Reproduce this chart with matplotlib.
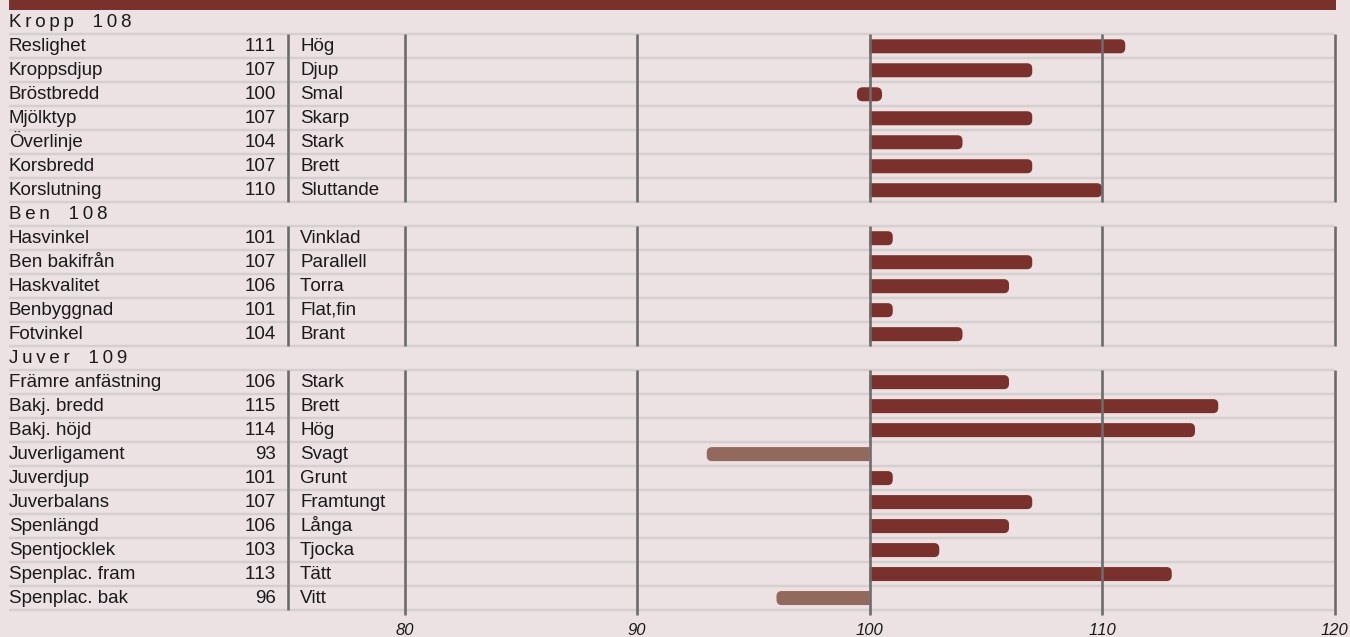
import numpy as np
import matplotlib
matplotlib.use("Agg")
import matplotlib.pyplot as plt
from matplotlib.patches import FancyBboxPatch, Rectangle, PathPatch
from matplotlib.path import Path

# Data
groups = ["Kropp", "Ben", "Juver"]
group_index = [108, 108, 109]

kropp_traits = ["Reslighet", "Kroppsdjup", "Bröstbredd", "Mjölktyp", "Överlinje", "Korsbredd", "Korslutning"]
kropp_values = [111, 107, 100, 107, 104, 107, 110]
kropp_desc = ["Hög", "Djup", "Smal", "Skarp", "Stark", "Brett", "Sluttande"]

ben_traits = ["Hasvinkel", "Ben bakifrån", "Haskvalitet", "Benbyggnad", "Fotvinkel"]
ben_values = [101, 107, 106, 101, 104]
ben_desc = ["Vinklad", "Parallell", "Torra", "Flat,fin", "Brant"]

juver_traits = ["Främre anfästning", "Bakj. bredd", "Bakj. höjd", "Juverligament", "Juverdjup",
                "Juverbalans", "Spenlängd", "Spentjocklek", "Spenplac. fram", "Spenplac. bak"]
juver_values = [106, 115, 114, 93, 101, 107, 106, 103, 113, 96]
juver_desc = ["Stark", "Brett", "Hög", "Svagt", "Grunt", "Framtungt", "Långa", "Tjocka", "Tätt", "Vitt"]

xticks = [80, 90, 100, 110, 120]

# Colours
BG = "#ece1e3"
BAR = "#7a312b"
BAR_LOW = "#93685d"
GRID = "#6c6c6c"
SEP = "#d4d0d0"
TXT = "#1a1a1a"

DPI = 100
W, H = 1350, 637
PX = 23.25            # pixels per index unit
X100 = 869.5          # pixel position of 100
ROW = 23.99           # pixels per row
Y0 = 10.3             # pixel top of first row

x_min = 100 - X100 / PX
x_max = 100 + (W - X100) / PX
y_top = -Y0 / ROW
y_bot = (H - Y0) / ROW


def px(p):
    return x_min + p / PX


plt.rcParams["font.family"] = ["Liberation Sans", "DejaVu Sans"]
plt.rcParams["text.kerning_factor"] = 16   # no kerning, like the original
FS = 13.5
BASE = 4.8 / ROW   # baseline offset below row centre

fig = plt.figure(figsize=(W / DPI, H / DPI), dpi=DPI, facecolor=BG)
ax = fig.add_axes([0, 0, 1, 1])
ax.set_facecolor(BG)
ax.set_xlim(x_min, x_max)
ax.set_ylim(y_bot, y_top)
ax.axis("off")

# top band
ax.add_patch(Rectangle((px(9), y_top), px(1336) - px(9), 10 / ROW,
                       color=BAR, lw=0, zorder=5))


def half_round_bar(x0, x1, yc, h, rad, color):
    # flat at x0, rounded corners at x1
    s = 1 if x1 > x0 else -1
    yb, yt = yc - h / 2, yc + h / 2
    verts = [(x0, yb), (x1 - s * rad, yb), (x1, yb), (x1, yb + rad),
             (x1, yt - rad), (x1, yt), (x1 - s * rad, yt), (x0, yt), (x0, yb)]
    codes = [Path.MOVETO, Path.LINETO, Path.CURVE3, Path.CURVE3,
             Path.LINETO, Path.CURVE3, Path.CURVE3, Path.LINETO, Path.CLOSEPOLY]
    ax.add_patch(PathPatch(Path(verts, codes), fc=color, ec="none", zorder=3))


all_traits = [kropp_traits, ben_traits, juver_traits]
all_values = [kropp_values, ben_values, juver_values]
all_desc = [kropp_desc, ben_desc, juver_desc]

thin = "\u2009"
bar_h = 14 / ROW
r = 0
blocks = []
for g, gi, traits, vals, descs in zip(groups, group_index, all_traits, all_values, all_desc):
    head = thin.join(g) + thin * 5 + thin.join(str(gi))
    ax.text(px(9), r + 0.5 + BASE, head, fontsize=FS, color=TXT, va="baseline", ha="left")
    r += 1
    start = r
    for t, v, d in zip(traits, vals, descs):
        yc = r + 0.5
        ty = yc + BASE
        ax.text(px(9), ty, t, fontsize=FS, color=TXT, va="baseline", ha="left")
        ax.text(px(276), ty, str(v), fontsize=FS, color=TXT, va="baseline", ha="right")
        ax.text(px(300), ty, d, fontsize=FS, color=TXT, va="baseline", ha="left")
        # bar
        if v == 100:
            ax.add_patch(FancyBboxPatch((99.46, yc - bar_h / 2), 1.08, bar_h,
                                        boxstyle="round,pad=0,rounding_size=0.25",
                                        fc=BAR, ec="none", zorder=3))
        else:
            col = BAR if v > 100 else BAR_LOW
            half_round_bar(100, v, yc, bar_h, 0.22, col)
        r += 1
    blocks.append((start, r))

# row separators
for start, end in blocks:
    for k in range(start, end + 1):
        ax.plot([px(9), px(1334)], [k, k], color=SEP, lw=1.7, zorder=1,
                solid_capstyle="butt")

# vertical lines
for i, (start, end) in enumerate(blocks):
    ext = 0.22 if i == len(blocks) - 1 else 0
    ax.plot([75, 75], [start, end], color=GRID, lw=1.9, zorder=4, solid_capstyle="butt")
    for xt in xticks:
        ax.plot([xt, xt], [start, end + ext], color=GRID, lw=1.9, zorder=4,
                solid_capstyle="butt")

# tick labels
for xt in xticks:
    ax.text(xt, 25.85, str(xt), fontsize=12, style="italic", color=TXT,
            ha="center", va="center")

fig.savefig("out.png", dpi=DPI, facecolor=BG)
